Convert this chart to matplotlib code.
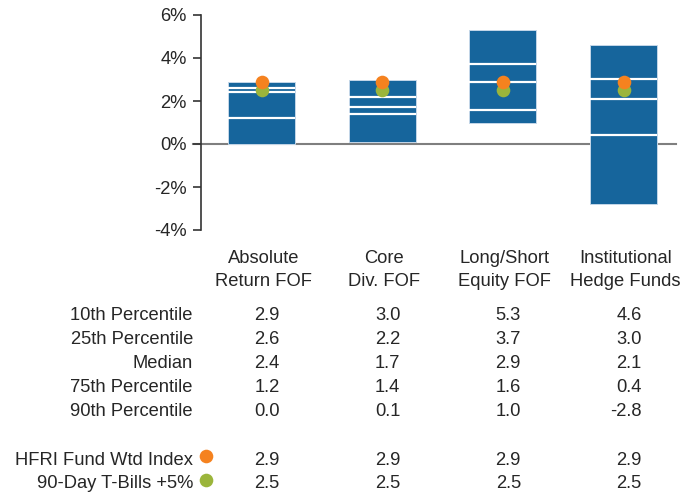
import matplotlib
matplotlib.use("Agg")
import matplotlib.pyplot as plt
import matplotlib.transforms as mtransforms
import numpy as np

# Return distribution by peer group (%)
categories = ["Absolute\nReturn FOF", "Core\nDiv. FOF", "Long/Short\nEquity FOF", "Institutional\nHedge Funds"]
p10 = [2.9, 3.0, 5.3, 4.6]
p25 = [2.6, 2.2, 3.7, 3.0]
median = [2.4, 1.7, 2.9, 2.1]
p75 = [1.2, 1.4, 1.6, 0.4]
p90 = [0.0, 0.1, 1.0, -2.8]
hfri = [2.9, 2.9, 2.9, 2.9]
tbills = [2.5, 2.5, 2.5, 2.5]

row_labels = ["10th Percentile", "25th Percentile", "Median", "75th Percentile", "90th Percentile"]
bench_labels = ["HFRI Fund Wtd Index", "90-Day T-Bills +5%"]
yticks = [-4, -2, 0, 2, 4, 6]

BAR = "#16659c"
ORANGE = "#f5821f"
GREEN = "#9bb53b"
TEXT = "#262626"
FS = 13.2
MS = 9.8

plt.rcParams["font.family"] = ["Liberation Sans", "DejaVu Sans"]

W, H = 699, 493
fig = plt.figure(figsize=(W / 100, H / 100), dpi=100)

# axes placed in pixel terms: spine at x=201, plot spans y=15..230
left, right = 201, 676
top, bottom = 15, 230
ax = fig.add_axes([left / W, 1 - bottom / H, (right - left) / W, (bottom - top) / H])

x = np.arange(len(categories))
unit = 120.6  # pixels between category centres
xmin = -(261.7 - left) / unit
ax.set_xlim(xmin, xmin + (right - left) / unit)
ax.set_ylim(-4, 6)

width = 67 / unit
lo = np.array(p90)
hi = np.array(p10)
ax.bar(x, hi - lo, bottom=lo, width=width, color=BAR, edgecolor="#c4d7e8",
       linewidth=0.7, zorder=2)
for vals in (p25, median, p75):
    ax.hlines(vals, x - width / 2, x + width / 2, colors="white", linewidth=1.6, zorder=3)

# zero line, extending across the tick at 0
ax.axhline(0, xmin=-8 / (right - left), xmax=1, color="#7f7f7f", linewidth=1.5,
           zorder=1, clip_on=False)

ax.plot(x, tbills, "o", color=GREEN, markersize=MS, markeredgewidth=0, zorder=4)
ax.plot(x, hfri, "o", color=ORANGE, markersize=MS, markeredgewidth=0, zorder=5)

for s in ("top", "right", "bottom"):
    ax.spines[s].set_visible(False)
ax.spines["left"].set_color("#333333")
ax.spines["left"].set_linewidth(1.2)
ax.set_xticks([])
ax.set_yticks(yticks)
ax.set_yticklabels([f"{v}%" for v in yticks])
ax.tick_params(axis="y", length=5.8, width=1.2, color="#333333", pad=4.3,
               labelsize=FS, labelcolor=TEXT)
ax.patch.set_visible(False)

# table below the chart: data x, pixel y measured from the top
trans = mtransforms.blended_transform_factory(ax.transData, fig.transFigure)
def fy(py):
    return 1 - py / H

value_dx = 18 / unit
for i, cat in enumerate(categories):
    l1, l2 = cat.split("\n")
    ax.text(i + 2 / unit, fy(263), l1, transform=trans, ha="center", va="baseline",
            fontsize=FS, color=TEXT)
    ax.text(i + 2 / unit, fy(286), l2, transform=trans, ha="center", va="baseline",
            fontsize=FS, color=TEXT)

rows = [p10, p25, median, p75, p90]
row_base = [319.5, 343.5, 367.5, 391.5, 415.5]
for lab, vals, by in zip(row_labels, rows, row_base):
    fig.text(193 / W, fy(by), lab, ha="right", va="baseline", fontsize=FS, color=TEXT)
    for i, v in enumerate(vals):
        ax.text(i + value_dx, fy(by), f"{v:.1f}", transform=trans, ha="right",
                va="baseline", fontsize=FS, color=TEXT)

bench = [hfri, tbills]
bench_colors = [ORANGE, GREEN]
bench_base = [465, 488.5]
for lab, vals, col, by in zip(bench_labels, bench, bench_colors, bench_base):
    fig.text(193 / W, fy(by), lab, ha="right", va="baseline", fontsize=FS, color=TEXT)
    fig.lines.append(plt.Line2D([206 / W], [fy(by - 9)], marker="o", color=col,
                                markersize=MS, markeredgewidth=0,
                                transform=fig.transFigure))
    for i, v in enumerate(vals):
        ax.text(i + value_dx, fy(by), f"{v:.1f}", transform=trans, ha="right",
                va="baseline", fontsize=FS, color=TEXT)

fig.savefig("out.png", dpi=100, facecolor="white")
